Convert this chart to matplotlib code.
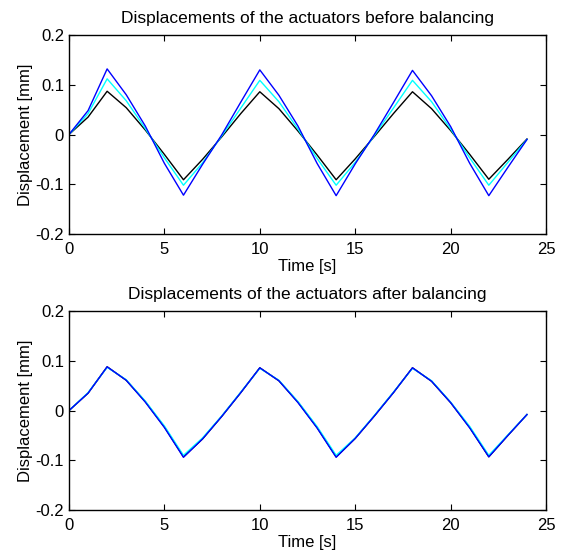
import matplotlib
matplotlib.use("Agg")
import matplotlib.pyplot as plt

plt.rcParams['font.family'] = ['Liberation Sans', 'DejaVu Sans']

# Time vertices [s]
time = [0, 1, 2, 3, 4, 5, 6, 7, 8, 9, 10, 11, 12, 13, 14, 15, 16, 17, 18, 19, 20, 21, 22, 23, 24]

# Before balancing
before_black = [0.000, 0.035, 0.087, 0.054, 0.009, -0.040, -0.091, -0.050, -0.005, 0.042, 0.086,
                0.052, 0.007, -0.041, -0.091, -0.049, -0.004, 0.042, 0.086, 0.052, 0.008, -0.040,
                -0.090, -0.050, -0.009]
before_cyan = [0.000, 0.042, 0.112, 0.068, 0.012, -0.047, -0.102, -0.057, -0.003, 0.053, 0.109,
               0.066, 0.011, -0.048, -0.102, -0.056, -0.002, 0.053, 0.109, 0.066, 0.011, -0.047,
               -0.102, -0.056, -0.010]
before_blue = [0.000, 0.048, 0.132, 0.080, 0.017, -0.058, -0.122, -0.060, -0.001, 0.065, 0.130,
               0.079, 0.017, -0.058, -0.123, -0.059, 0.000, 0.064, 0.129, 0.078, 0.016, -0.058,
               -0.123, -0.066, -0.010]

# After balancing
after_black = [0.000, 0.035, 0.088, 0.061, 0.018, -0.033, -0.093, -0.057, -0.012, 0.036, 0.086,
               0.060, 0.017, -0.034, -0.093, -0.056, -0.011, 0.036, 0.086, 0.059, 0.016, -0.034,
               -0.093, -0.050, -0.008]
after_cyan = [0.000, 0.036, 0.087, 0.062, 0.019, -0.031, -0.090, -0.055, -0.011, 0.037, 0.085,
              0.061, 0.018, -0.032, -0.090, -0.055, -0.010, 0.037, 0.085, 0.060, 0.017, -0.032,
              -0.090, -0.049, -0.008]
after_blue = [0.000, 0.035, 0.088, 0.061, 0.017, -0.034, -0.094, -0.057, -0.012, 0.036, 0.086,
              0.060, 0.016, -0.035, -0.094, -0.056, -0.011, 0.036, 0.086, 0.059, 0.016, -0.035,
              -0.093, -0.050, -0.008]

titles = ["Displacements of the actuators before balancing",
          "Displacements of the actuators after balancing"]
xticks = [0, 5, 10, 15, 20, 25]
yticks = [-0.2, -0.1, 0, 0.1, 0.2]
ytick_labels = ["-0.2", "-0.1", "0", "0.1", "0.2"]

fig = plt.figure(figsize=(5.70, 5.57), dpi=100)
ax1 = fig.add_axes([0.121, 0.580, 0.837, 0.357])
ax2 = fig.add_axes([0.121, 0.0844, 0.837, 0.357])

series = [
    (ax1, [before_black, before_cyan, before_blue], titles[0]),
    (ax2, [after_black, after_cyan, after_blue], titles[1]),
]
colors = ['#000000', '#00FFFF', '#0000FF']

for ax, ys, title in series:
    for y, c in zip(ys, colors):
        ax.plot(time, y, color=c, lw=1.0)
    ax.set_xlim(0, 25)
    ax.set_ylim(-0.2, 0.2)
    ax.set_xticks(xticks)
    ax.set_xticklabels([str(t) for t in xticks])
    ax.set_yticks(yticks)
    ax.set_yticklabels(ytick_labels)
    ax.tick_params(direction='in', length=4, width=0.8, top=True, right=True,
                   labelsize=12)
    ax.tick_params(axis='x', pad=6)
    ax.tick_params(axis='y', pad=3.5)
    for s in ax.spines.values():
        s.set_linewidth(1.0)
    ax.set_title(title, fontsize=12.5, pad=9)
    ax.set_xlabel("Time [s]", fontsize=12, labelpad=1.5)
    ax.set_ylabel("Displacement [mm]", fontsize=12, labelpad=2)

fig.savefig("out.png", dpi=100)
